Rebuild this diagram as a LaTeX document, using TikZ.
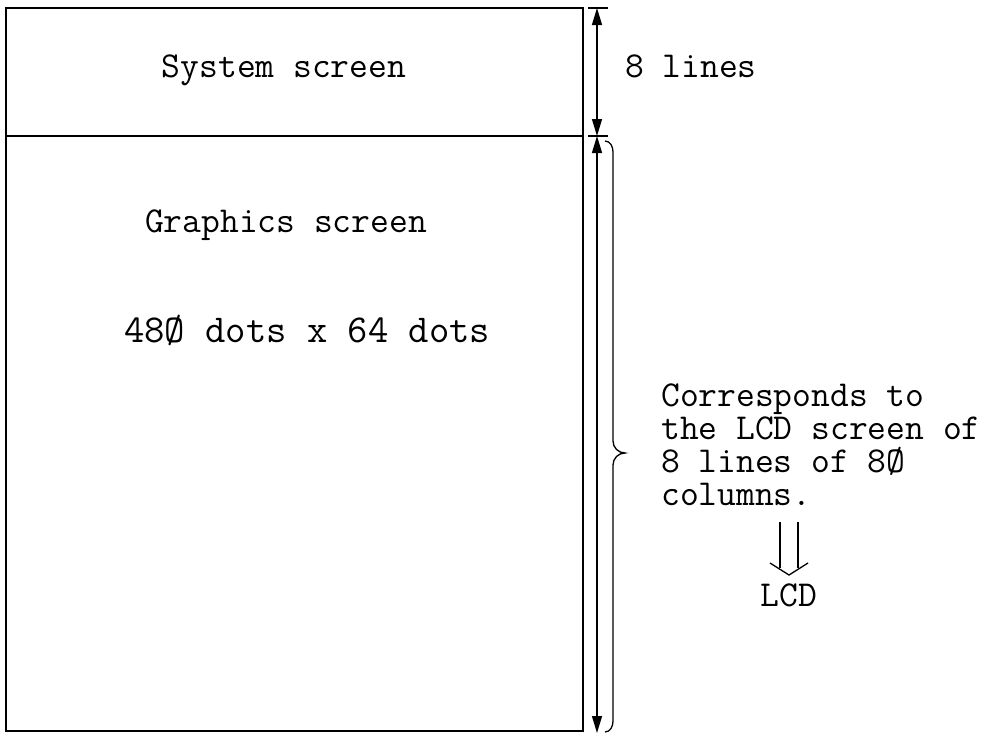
\documentclass[tikz,border=0pt]{standalone}
\usepackage{fontspec}
\usetikzlibrary{arrows.meta}
\begin{document}
\begin{tikzpicture}[x=1pt,y=-1pt,
  lbl/.style={inner sep=0pt, font=\ttfamily\fontsize{36.5}{33}\selectfont},
  wide/.style={inner sep=0pt, font=\ttfamily\fontsize{39.5}{33}\selectfont},
  frame/.style={line width=1.8pt},
  dim/.style={line width=1.3pt, {Triangle[length=17pt,width=10pt]}-{Triangle[length=17pt,width=10pt]}},
  thin/.style={line width=1.3pt}]
\useasboundingbox (0,0) rectangle (997,734);
% screen rectangle
\draw[frame] (6,8) rectangle (583,731);
\draw[frame] (6,136) -- (583,136);
% texts
\node[lbl, anchor=base] (sys) at (284,77) {System screen};
\node[lbl, anchor=base west] (eight) at (625,77) {8 lines};
\node[lbl, anchor=base] (gfx) at (286,232) {Graphics screen};
\node[wide, anchor=base west] (dots) at (124,342) {48Ø dots x 64 dots};
\node[lbl, anchor=base west, align=left] (corr) at (661,505)
  {Corresponds to\\the LCD screen of\\8 lines of 8Ø\\columns.};
\node[lbl, anchor=base] (lcd) at (789,606) {LCD};
% dimension lines
\coordinate (t0) at (597,8);
\coordinate (t1) at (597,136);
\coordinate (t2) at (597,733);
\draw[thin] (588,8) -- (608,8);
\draw[thin] (588,136) -- (608,136);
\draw[dim] (t0) -- (t1);
\draw[dim] (t1) -- (t2);
% brace
\draw[thin] (605,141) to[out=0,in=90] (613,152) -- (613,441)
  to[out=-90,in=180] (625,453) to[out=180,in=90] (613,465) -- (613,721)
  to[out=-90,in=0] (605,732);
% double arrow to LCD
\coordinate (a1) at (780,522);
\coordinate (a2) at (798,522);
\coordinate (b1) at (780,568);
\coordinate (b2) at (798,568);
\coordinate (c1) at (770,563);
\coordinate (c2) at (808,563);
\coordinate (tip) at (789,575);
\draw[thin] (a1) -- (b1);
\draw[thin] (a2) -- (b2);
\draw[thin] (c1) -- (tip) -- (c2);
\end{tikzpicture}
\end{document}
